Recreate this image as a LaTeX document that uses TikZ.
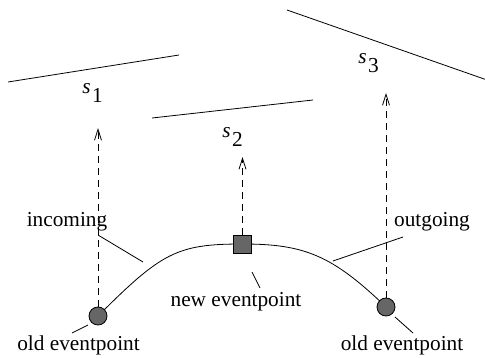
\documentclass[tikz,border=0pt]{standalone}
\usepackage{fontspec}
\setmainfont{Liberation Serif}
\usetikzlibrary{arrows.meta}
\newcommand{\slab}[1]{\textit{s}\hspace{1.5pt}\raisebox{-9pt}{#1}}
\begin{document}
\begin{tikzpicture}[x=1pt,y=-1pt,line width=0.8pt,
  txt/.style={font=\fontsize{21.3}{24}\selectfont,inner sep=0pt,anchor=base},
  slabel/.style={font=\fontsize{21.3}{24}\selectfont,inner sep=0pt,anchor=base west},
  evdot/.style={circle,draw,fill=black!60,minimum size=18pt,inner sep=0pt},
  evsq/.style={rectangle,draw,fill=black!60,minimum size=18pt,inner sep=0pt},
  darrow/.style={dash pattern=on 7pt off 5pt,-{Straight Barb[length=11pt,width=7pt]}},
  leader/.style={line width=0.8pt}]
\useasboundingbox (0,0) rectangle (485,358);
% segments
\coordinate (a1) at (8,82);   \coordinate (b1) at (179,55);
\coordinate (a2) at (152,118); \coordinate (b2) at (313,100);
\coordinate (a3) at (287,10);  \coordinate (b3) at (487,80);
\draw (a1) -- (b1);
\draw (a2) -- (b2);
\draw (a3) -- (b3);
\node[slabel] (s1) at (82,94) {\slab{1}};
\node[slabel] (s2) at (222,138) {\slab{2}};
\node[slabel] (s3) at (358,64) {\slab{3}};
% event points
\coordinate (c1) at (161.6,252.4); \coordinate (c2) at (177,244);
\coordinate (c3) at (304,244); \coordinate (c4) at (332,255);
\draw (98,316) .. controls (c1) and (c2) .. (242.5,244) .. controls (c3) and (c4) .. (386,307);
\node[evdot] (o1) at (98,316) {};
\node[evsq] (n) at (242.5,244) {};
\node[evdot] (o2) at (386,307) {};
% arrows
\coordinate (t1) at (98,128);
\coordinate (t2) at (242.5,157);
\coordinate (t3) at (386,93);
\draw[darrow] (o1) -- (t1);
\draw[darrow] (n) -- (t2);
\draw[darrow] (o2) -- (t3);
% labels
\node[txt] (inc) at (67,227) {incoming};
\node[txt] (out) at (432,227) {outgoing};
\node[txt] (nev) at (236,307) {new eventpoint};
\node[txt] (old1) at (78.5,350) {old eventpoint};
\node[txt] (old2) at (402,350) {old eventpoint};
% leaders
\coordinate (li1) at (98,235);  \coordinate (li2) at (143,262);
\coordinate (lo1) at (403,237); \coordinate (lo2) at (333,261);
\coordinate (ln1) at (252,272); \coordinate (ln2) at (260,288);
\coordinate (ll1) at (88,325);  \coordinate (ll2) at (72,333);
\coordinate (lr1) at (395,317); \coordinate (lr2) at (413,333);
\draw[leader] (li1) -- (li2);
\draw[leader] (lo1) -- (lo2);
\draw[leader] (ln1) -- (ln2);
\draw[leader] (ll1) -- (ll2);
\draw[leader] (lr1) -- (lr2);
\end{tikzpicture}
\end{document}
